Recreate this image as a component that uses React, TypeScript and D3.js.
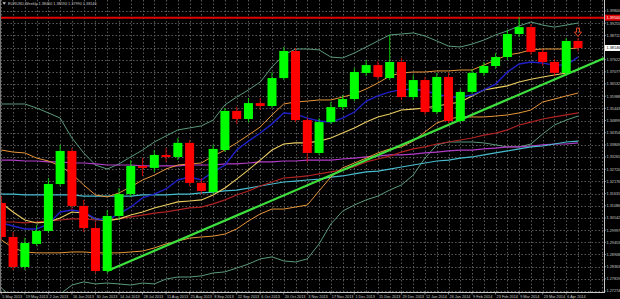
import React from 'react';
import * as d3 from 'd3';

// ---- data (weekly EURUSD) ----
const dateLabels = [
  '5 May 2013', '19 May 2013', '2 Jun 2013', '16 Jun 2013', '30 Jun 2013', '14 Jul 2013',
  '28 Jul 2013', '11 Aug 2013', '25 Aug 2013', '8 Sep 2013', '22 Sep 2013', '6 Oct 2013',
  '20 Oct 2013', '3 Nov 2013', '17 Nov 2013', '1 Dec 2013', '15 Dec 2013', '29 Dec 2013',
  '12 Jan 2014', '26 Jan 2014', '9 Feb 2014', '23 Feb 2014', '9 Mar 2014', '23 Mar 2014', '6 Apr 2014',
];

const openP = [1.3121,1.2969,1.2835,1.2938,1.2996,1.3206,1.3354,1.3108,1.3009,1.2817,
  1.3063,1.3161,1.3287,1.3278,1.3336,1.3327,1.3390,1.3211,1.3170,1.3358,
  1.3533,1.3497,1.3568,1.3555,1.3680,1.3801,1.3492,1.3345,1.3483,1.3550,
  1.3586,1.3703,1.3738,1.3680,1.3752,1.3595,1.3671,1.3528,1.3685,1.3488,
  1.3618,1.3703,1.3734,1.3774,1.3877,1.3908,1.3797,1.3752,1.3703,1.3846];
const highP = [1.3152,1.2991,1.2965,1.3023,1.3233,1.3381,1.3367,1.3135,1.3036,1.3090,
  1.3188,1.3313,1.3322,1.3358,1.3367,1.3412,1.3403,1.3233,1.3381,1.3546,
  1.3551,1.3591,1.3591,1.3707,1.3819,1.3815,1.3501,1.3501,1.3573,1.3604,
  1.3725,1.3761,1.3756,1.3873,1.3770,1.3694,1.3685,1.3703,1.3703,1.3631,
  1.3720,1.3752,1.3792,1.3895,1.3953,1.3922,1.3810,1.3765,1.3859,1.3859];
const lowP = [1.2956,1.2821,1.2821,1.2929,1.2987,1.3197,1.3090,1.2991,1.2808,1.2808,
  1.3045,1.3148,1.3242,1.3260,1.3305,1.3313,1.3197,1.3161,1.3161,1.3349,
  1.3475,1.3483,1.3537,1.3546,1.3671,1.3483,1.3305,1.3336,1.3475,1.3537,
  1.3577,1.3689,1.3671,1.3671,1.3582,1.3582,1.3515,1.3519,1.3479,1.3479,
  1.3609,1.3689,1.3721,1.3761,1.3864,1.3783,1.3734,1.3689,1.3689,1.3799];
const closeP = [1.2969,1.2835,1.2942,1.2996,1.3206,1.3354,1.3108,1.3009,1.2817,1.3063,
  1.3161,1.3287,1.3278,1.3336,1.3327,1.3390,1.3211,1.3175,1.3363,1.3533,
  1.3497,1.3568,1.3555,1.3680,1.3801,1.3492,1.3345,1.3483,1.3550,1.3586,
  1.3707,1.3738,1.3685,1.3752,1.3595,1.3671,1.3528,1.3685,1.3488,1.3618,
  1.3703,1.3734,1.3774,1.3877,1.3908,1.3797,1.3752,1.3703,1.3846,1.38146];

const maBlue = [1.3032,1.3018,1.3005,1.3005,1.3027,1.3081,1.3090,1.3081,1.3050,1.3045,
  1.3072,1.3103,1.3144,1.3161,1.3184,1.3224,1.3237,1.3224,1.3260,1.3291,
  1.3358,1.3398,1.3434,1.3475,1.3524,1.3519,1.3501,1.3488,1.3483,1.3501,
  1.3528,1.3577,1.3600,1.3618,1.3627,1.3631,1.3622,1.3609,1.3595,1.3595,
  1.3604,1.3627,1.3653,1.3707,1.3743,1.3752,1.3747,1.3738,1.3738,1.3774];
const maYellow = [1.3121,1.3081,1.3045,1.3032,1.3036,1.3054,1.3081,1.3076,1.3050,1.3041,
  1.3050,1.3067,1.3081,1.3099,1.3112,1.3126,1.3130,1.3135,1.3157,1.3188,
  1.3228,1.3269,1.3313,1.3358,1.3385,1.3390,1.3390,1.3398,1.3412,1.3434,
  1.3457,1.3483,1.3506,1.3519,1.3537,1.3541,1.3546,1.3555,1.3564,1.3573,
  1.3600,1.3627,1.3636,1.3645,1.3662,1.3675,1.3685,1.3694,1.3703,1.3716];
const maRed = [1.3036,1.3036,1.3032,1.3036,1.3041,1.3045,1.3050,1.3050,1.3045,1.3045,
  1.3050,1.3059,1.3067,1.3076,1.3081,1.3090,1.3099,1.3103,1.3117,1.3135,
  1.3157,1.3175,1.3197,1.3215,1.3233,1.3237,1.3242,1.3251,1.3260,1.3269,
  1.3283,1.3305,1.3318,1.3331,1.3349,1.3363,1.3372,1.3385,1.3394,1.3403,
  1.3412,1.3425,1.3434,1.3448,1.3470,1.3483,1.3497,1.3506,1.3515,1.3524];
const maCyan = [1.3161,1.3161,1.3157,1.3157,1.3157,1.3157,1.3157,1.3152,1.3152,1.3152,
  1.3152,1.3152,1.3157,1.3157,1.3157,1.3161,1.3161,1.3166,1.3170,1.3175,
  1.3179,1.3188,1.3197,1.3206,1.3215,1.3219,1.3224,1.3228,1.3237,1.3242,
  1.3251,1.3260,1.3264,1.3273,1.3282,1.3291,1.3300,1.3309,1.3313,1.3322,
  1.3327,1.3336,1.3345,1.3354,1.3363,1.3372,1.3376,1.3385,1.3394,1.3398];
const maMagenta = [1.3313,1.3313,1.3309,1.3309,1.3305,1.3305,1.3300,1.3300,1.3296,1.3291,
  1.3291,1.3291,1.3287,1.3287,1.3287,1.3287,1.3291,1.3291,1.3291,1.3296,
  1.3296,1.3300,1.3305,1.3305,1.3309,1.3309,1.3313,1.3313,1.3313,1.3318,
  1.3322,1.3327,1.3331,1.3336,1.3336,1.3340,1.3345,1.3349,1.3354,1.3358,
  1.3358,1.3363,1.3367,1.3372,1.3372,1.3376,1.3381,1.3385,1.3385,1.3390];
const bbUpper2 = [1.3564,1.3564,1.3564,1.3546,1.3524,1.3501,1.3412,1.3345,1.3291,1.3273,
  1.3296,1.3327,1.3358,1.3394,1.3421,1.3448,1.3457,1.3466,1.3492,1.3560,
  1.3595,1.3627,1.3662,1.3730,1.3783,1.3810,1.3810,1.3806,1.3774,1.3770,
  1.3792,1.3819,1.3846,1.3873,1.3877,1.3882,1.3868,1.3846,1.3823,1.3819,
  1.3832,1.3850,1.3873,1.3891,1.3913,1.3931,1.3917,1.3908,1.3917,1.3926];
const bbLower2 = [1.2741,1.2696,1.2669,1.2660,1.2678,1.2714,1.2754,1.2768,1.2759,1.2763,
  1.2759,1.2754,1.2763,1.2759,1.2781,1.2790,1.2790,1.2795,1.2808,1.2813,
  1.2830,1.2848,1.2871,1.2880,1.2862,1.2857,1.2871,1.2938,1.3027,1.3085,
  1.3112,1.3135,1.3152,1.3179,1.3202,1.3246,1.3322,1.3381,1.3394,1.3394,
  1.3394,1.3390,1.3381,1.3372,1.3372,1.3385,1.3430,1.3470,1.3492,1.3510];
const bbUpper1 = [1.3358,1.3349,1.3345,1.3322,1.3309,1.3287,1.3251,1.3202,1.3157,1.3148,
  1.3166,1.3193,1.3224,1.3246,1.3273,1.3291,1.3296,1.3300,1.3331,1.3358,
  1.3390,1.3425,1.3461,1.3515,1.3564,1.3573,1.3577,1.3582,1.3582,1.3595,
  1.3609,1.3631,1.3658,1.3689,1.3703,1.3707,1.3707,1.3712,1.3712,1.3716,
  1.3716,1.3738,1.3761,1.3783,1.3792,1.3806,1.3810,1.3810,1.3810,1.3815];
const bbLower1 = [1.2956,1.2920,1.2902,1.2898,1.2898,1.2898,1.2902,1.2902,1.2898,1.2898,
  1.2898,1.2902,1.2906,1.2920,1.2938,1.2951,1.2964,1.2969,1.2973,1.2982,
  1.3005,1.3041,1.3072,1.3094,1.3094,1.3103,1.3112,1.3175,1.3237,1.3278,
  1.3300,1.3322,1.3345,1.3363,1.3372,1.3398,1.3439,1.3479,1.3497,1.3506,
  1.3506,1.3506,1.3510,1.3515,1.3524,1.3537,1.3573,1.3586,1.3600,1.3613];

const priceTicks = [1.398, 1.39255, 1.38711, 1.38166, 1.37622, 1.37077, 1.36532, 1.35988,
  1.35443, 1.34899, 1.34354, 1.33809, 1.33265, 1.3272, 1.32176, 1.31631, 1.31086, 1.30542,
  1.29997, 1.29453, 1.28908, 1.28363, 1.27819, 1.27274];

const hLinePrice = 1.395;
const trendAnchors = [{ i: 9, p: 1.2817 }, { i: 48, p: 1.3696 }];
const symbolTitle = 'EURUSD,Weekly';

const W = 620, H = 299;
const plotRight = 604, plotBottom = 292;
const FONT = "'Liberation Sans', Arial, sans-serif";

export default function App() {
  const n = closeP.length;
  const x = d3.scaleLinear().domain([0, n - 1]).range([1.3, 578]);
  const y = d3.scaleLinear()
    .domain([priceTicks[priceTicks.length - 1], priceTicks[0]])
    .range([291, 11]);
  const line = d3.line<number>().x((_, i) => x(i)).y((d) => y(d));
  const lastBar = Math.floor(x.invert(plotRight));
  const gridBars = d3.range(0, lastBar + 1);

  const slope = (trendAnchors[1].p - trendAnchors[0].p) / (trendAnchors[1].i - trendAnchors[0].i);
  const iEnd = x.invert(plotRight);
  const pEnd = trendAnchors[0].p + slope * (iEnd - trendAnchors[0].i);

  const series = [
    { d: bbUpper2, c: '#5a9a7c', w: 1 },
    { d: bbLower2, c: '#5a9a7c', w: 1 },
    { d: maMagenta, c: '#b23cc8', w: 1.2 },
    { d: maCyan, c: '#48bccf', w: 1.2 },
    { d: maRed, c: '#b02222', w: 1.2 },
    { d: bbUpper1, c: '#e8963a', w: 1 },
    { d: bbLower1, c: '#e8963a', w: 1 },
    { d: maYellow, c: '#ebcd62', w: 1.1 },
    { d: maBlue, c: '#2020c8', w: 1.4 },
  ];

  const last = n - 1;
  const fmt = (v: number) => v.toFixed(5);
  const arrowTop = y(highP[last]) - 10;
  const ax = x(last);

  return (
    <svg width={W} height={H} style={{ position: 'absolute', left: 0, top: 0, display: 'block' }}>
      <defs>
        <clipPath id="plot">
          <rect x={0} y={0} width={plotRight} height={plotBottom} />
        </clipPath>
      </defs>
      <rect x={0} y={0} width={W} height={H} fill="#000" />

      {/* grid */}
      <g stroke="#5a5a5a" strokeWidth={1} strokeDasharray="1.5,2">
        {priceTicks.map((t, k) => (
          <line key={'h' + k} x1={0} x2={plotRight} y1={Math.round(y(t)) + 0.5} y2={Math.round(y(t)) + 0.5} />
        ))}
        {gridBars.map((i) => (
          <line key={'v' + i} x1={Math.round(x(i)) + 0.5} x2={Math.round(x(i)) + 0.5} y1={0} y2={plotBottom} />
        ))}
      </g>

      <g clipPath="url(#plot)">
        {/* indicators */}
        {series.map((s, k) => (
          <path key={k} d={line(s.d) || ''} fill="none" stroke={s.c} strokeWidth={s.w} />
        ))}
        {/* trend line */}
        <line x1={x(trendAnchors[0].i)} y1={y(trendAnchors[0].p)} x2={x(iEnd)} y2={y(pEnd)}
          stroke="#3ee03e" strokeWidth={2.2} />
        {/* horizontal resistance */}
        <line x1={0} x2={plotRight} y1={y(hLinePrice)} y2={y(hLinePrice)} stroke="#e00000" strokeWidth={2} />

        {/* candles */}
        {closeP.map((c, i) => {
          const o = openP[i];
          const up = c >= o;
          const col = up ? '#00ff00' : '#ff0000';
          const top = y(Math.max(o, c));
          const h = Math.max(1.2, Math.abs(y(o) - y(c)));
          return (
            <g key={i}>
              <line x1={x(i)} x2={x(i)} y1={y(highP[i])} y2={y(lowP[i])} stroke={col} strokeWidth={1} opacity={0.75} />
              <rect x={x(i) - 4.5} y={top} width={9} height={h} fill={col} />
            </g>
          );
        })}

        {/* sell arrow marker */}
        <path
          d={`M${ax - 1.5},${arrowTop} h3 v4 h2 l-3.5,4.5 l-3.5,-4.5 h2 z`}
          fill="none" stroke="#ff4a20" strokeWidth={0.9} />
      </g>

      {/* frame */}
      <line x1={0.5} x2={0.5} y1={0} y2={plotBottom} stroke="#777" strokeWidth={1} />
      <line x1={plotRight + 0.5} x2={plotRight + 0.5} y1={0} y2={plotBottom + 1} stroke="#c8c8c8" strokeWidth={1} />
      <line x1={0} x2={plotRight + 1} y1={plotBottom + 0.5} y2={plotBottom + 0.5} stroke="#c8c8c8" strokeWidth={1} />

      {/* price axis */}
      <g fontFamily={FONT} fontSize={3.8} fill="#c8c8c8">
        {priceTicks.map((t, k) => (
          <g key={k}>
            <line x1={plotRight} x2={plotRight + 2} y1={y(t)} y2={y(t)} stroke="#c8c8c8" strokeWidth={0.6} />
            <text x={606.5} y={y(t) + 1.4}>{fmt(t)}</text>
          </g>
        ))}
      </g>
      {/* horizontal line label */}
      <rect x={plotRight + 1} y={y(hLinePrice) - 3} width={W - plotRight - 1} height={6} fill="#e00000" />
      <text x={606.5} y={y(hLinePrice) + 1.4} fontFamily={FONT} fontSize={3.8} fill="#ffffff">{fmt(hLinePrice)}</text>
      {/* current price label */}
      <rect x={plotRight + 1} y={y(closeP[last]) - 3} width={W - plotRight - 1} height={6} fill="#ffffff" />
      <text x={606.5} y={y(closeP[last]) + 1.4} fontFamily={FONT} fontSize={3.8} fill="#000">{fmt(closeP[last])}</text>

      {/* time axis */}
      <g fontFamily={FONT} fontSize={3.8} fill="#c8c8c8">
        {dateLabels.map((lbl, k) => {
          const xi = x(k * 2);
          return (
            <g key={k}>
              <line x1={xi} x2={xi} y1={plotBottom} y2={plotBottom + 2.5} stroke="#c8c8c8" strokeWidth={0.6} />
              <text x={xi + 1} y={297.6}>{lbl}</text>
            </g>
          );
        })}
      </g>

      {/* title */}
      <path d="M2.5,2.2 h3.4 l-1.7,2.6 z" fill="#c8c8c8" />
      <text x={8} y={5.2} fontFamily={FONT} fontSize={3.8} fill="#c8c8c8">
        {`${symbolTitle}  ${fmt(openP[last])} ${fmt(highP[last])} ${fmt(lowP[last])} ${fmt(closeP[last])}`}
      </text>
    </svg>
  );
}
